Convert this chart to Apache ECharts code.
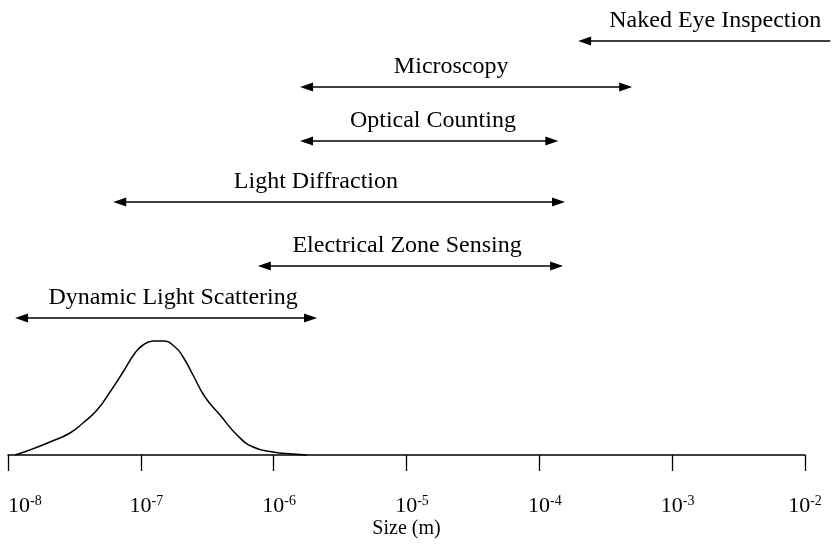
<!DOCTYPE html>
<html>
<head>
<meta charset="utf-8">
<script src="https://cdn.jsdelivr.net/npm/echarts@6/dist/echarts.min.js"></script>
<style>
html,body{margin:0;padding:0;background:#fff;}
#chart{width:838px;height:555px;}
</style>
</head>
<body>
<div id="chart"></div>
<script>
// ---- data ----
const methods = ['Naked Eye Inspection', 'Microscopy', 'Optical Counting', 'Light Diffraction', 'Electrical Zone Sensing', 'Dynamic Light Scattering'];
const rangeStart = [1.96e-4, 1.58e-6, 1.58e-6, 6.2e-8, 7.6e-7, 1.13e-8];   // size (m)
const rangeEnd   = [1.55e-2, 5.0e-4, 1.39e-4, 1.56e-4, 1.51e-4, 2.12e-6];   // size (m)
const rowLevel   = [82.8, 73.6, 62.8, 50.6, 37.8, 27.4];
const labelAt    = [2.11e-3, 2.17e-5, 1.58e-5, 2.08e-6, 1.01e-5, 1.75e-7];
const headLeft   = [1, 1, 1, 1, 1, 1];
const headRight  = [0, 1, 1, 1, 1, 1];

const curveSize = [1.13e-8, 1.46e-8, 2.07e-8, 2.93e-8, 3.67e-8, 4.68e-8, 5.86e-8, 7.35e-8, 9.04e-8, 1.04e-7, 1.24e-7, 1.47e-7, 1.81e-7, 2.08e-7, 2.47e-7, 3.04e-7, 3.95e-7, 5.30e-7, 7.00e-7, 9.90e-7, 1.40e-6, 1.78e-6];
const curveValue = [0, 1.0, 2.6, 4.4, 6.4, 9.0, 12.6, 16.6, 20.4, 22.0, 22.8, 22.8, 21.6, 19.6, 16.0, 11.6, 8.0, 4.0, 1.6, 0.6, 0.2, 0];

const tickExponents = [-8, -7, -6, -5, -4, -3, -2];
const axisTitle = 'Size (m)';

// ---- chart ----
const FONT = '"Liberation Serif", "DejaVu Serif", serif';
const chart = echarts.init(document.getElementById('chart'), null, {renderer: 'canvas'});

const arrowData = methods.map((m, i) => ({
  name: m,
  value: [rangeStart[i], rangeEnd[i], rowLevel[i], labelAt[i], headLeft[i], headRight[i]]
}));
const curveData = curveSize.map((s, i) => [s, curveValue[i]]);

const HL = 13, HW = 4.5;
function renderArrow(params, api) {
  const lvl = api.value(2);
  const p1 = api.coord([api.value(0), lvl]);
  const p2 = api.coord([api.value(1), lvl]);
  const pl = api.coord([api.value(3), lvl]);
  const hasL = api.value(4) === 1, hasR = api.value(5) === 1;
  const y = p1[1];
  const x1 = p1[0], x2 = p2[0];
  const children = [{
    type: 'line',
    shape: {x1: hasL ? x1 + HL - 2 : x1, y1: y, x2: hasR ? x2 - HL + 2 : x2, y2: y},
    style: {stroke: '#000', lineWidth: 1.6}
  }];
  if (hasL) children.push({type: 'polygon', shape: {points: [[x1, y], [x1 + HL, y - HW], [x1 + HL, y + HW]]}, style: {fill: '#000'}});
  if (hasR) children.push({type: 'polygon', shape: {points: [[x2, y], [x2 - HL, y - HW], [x2 - HL, y + HW]]}, style: {fill: '#000'}});
  children.push({
    type: 'text',
    style: {
      text: methods[params.dataIndex], x: pl[0], y: y - 20,
      align: 'center', verticalAlign: 'middle',
      fontFamily: FONT, fontSize: 24, fill: '#000'
    }
  });
  return {type: 'group', children};
}

chart.setOption({
  animation: false,
  backgroundColor: '#fff',
  grid: {left: 8, right: 33, top: 5, bottom: 100, containLabel: false},
  xAxis: {
    type: 'log', logBase: 10, min: 1e-8, max: 1e-2, interval: 1,
    axisLine: {show: true, onZero: false, lineStyle: {color: '#000', width: 1.5}},
    axisTick: {show: true, length: 16, lineStyle: {color: '#000', width: 1.3}},
    minorTick: {show: false},
    splitLine: {show: false},
    axisLabel: {
      margin: 39,
      alignMinLabel: 'left', alignMaxLabel: 'left',
      formatter: function (v) {
        const e = Math.round(Math.log10(v));
        const edge = (e === tickExponents[0] || e === tickExponents[tickExponents.length - 1]);
        return '{' + (edge ? 'b' : 'bp') + '|10}{s|' + (e < 0 ? '-' + (-e) : e) + '}';
      },
      rich: {
        b: {fontFamily: FONT, fontSize: 22, color: '#000', lineHeight: 24},
        bp: {fontFamily: FONT, fontSize: 22, color: '#000', lineHeight: 24, padding: [0, 0, 0, 11]},
        s: {fontFamily: FONT, fontSize: 14, color: '#000', padding: [0, 0, 10, 0]}
      }
    },
    name: axisTitle, nameLocation: 'middle', nameGap: 64,
    nameMoveOverlap: false,
    nameTextStyle: {fontFamily: FONT, fontSize: 20, color: '#000'}
  },
  yAxis: {
    type: 'value', min: 0, max: 90, show: false,
    splitLine: {show: false}
  },
  series: [
    {
      type: 'line', data: curveData, smooth: 0.5, symbol: 'none',
      lineStyle: {color: '#000', width: 1.5}, clip: false
    },
    {
      type: 'custom', data: arrowData, renderItem: renderArrow,
      encode: {x: [0, 1, 3], y: 2}, clip: false
    }
  ]
});
</script>
</body>
</html>
